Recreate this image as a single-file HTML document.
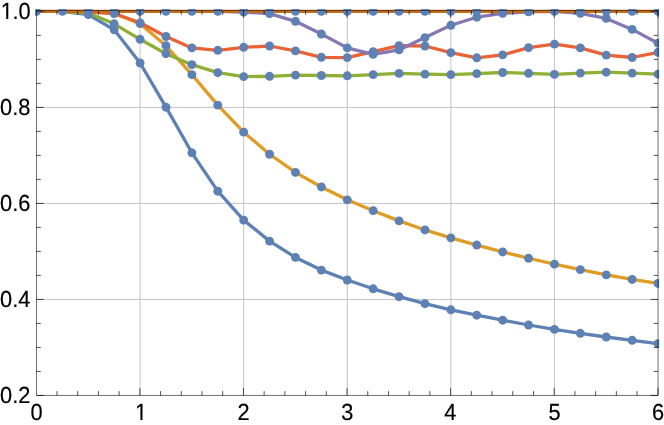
<!DOCTYPE html>
<html><head><meta charset="utf-8"><title>plot</title>
<style>
html,body{margin:0;padding:0;background:#fff;}
body{width:664px;height:425px;overflow:hidden;position:relative;font-family:"Liberation Sans",sans-serif;}
svg{position:absolute;left:0;top:0;display:block;}
text{font-family:"Liberation Sans",sans-serif;font-size:21.8px;fill:#000;stroke:#000;stroke-width:0.18px;text-rendering:geometricPrecision;}
</style></head><body>
<svg width="664" height="425" viewBox="0 0 664 425">
<defs><clipPath id="c"><rect x="35.05" y="9.0" width="624.1" height="388.2"/></clipPath></defs>
<rect width="664" height="425" fill="#fff"/>

<g stroke="#c4c4c4" stroke-width="1" fill="none">
<line x1="140.09" y1="10.5" x2="140.09" y2="395.45"/>
<line x1="243.68" y1="10.5" x2="243.68" y2="395.45"/>
<line x1="347.27" y1="10.5" x2="347.27" y2="395.45"/>
<line x1="450.86" y1="10.5" x2="450.86" y2="395.45"/>
<line x1="554.45" y1="10.5" x2="554.45" y2="395.45"/>
<line x1="36.5" y1="299.43" x2="658.04" y2="299.43"/>
<line x1="36.5" y1="203.41" x2="658.04" y2="203.41"/>
<line x1="36.5" y1="107.39" x2="658.04" y2="107.39"/>
</g>
<g clip-path="url(#c)">
<polyline points="62.40,11.30 88.30,14.50 114.19,29.80 140.09,63.00 165.99,107.20 191.88,152.80 217.78,191.20 243.68,220.10 269.58,241.10 295.48,257.40 321.37,270.10 347.27,280.00 373.17,288.80 399.06,296.70 424.96,303.70 450.86,309.80 476.76,315.20 502.66,320.20 528.55,325.00 554.45,329.40 580.35,333.30 606.25,337.00 632.14,340.30 658.04,343.70" fill="none" stroke="#5E81B5" stroke-width="3.3" stroke-linejoin="round" stroke-linecap="butt"/>
<polyline points="62.40,11.30 88.30,11.80 114.19,13.50 140.09,23.65 165.99,45.75 191.88,74.65 217.78,105.15 243.68,132.15 269.58,154.25 295.48,172.35 321.37,186.95 347.27,199.85 373.17,210.65 399.06,220.85 424.96,229.95 450.86,237.85 476.76,245.05 502.66,251.95 528.55,258.25 554.45,264.15 580.35,269.65 606.25,274.85 632.14,279.45 658.04,283.45" fill="none" stroke="#E19C24" stroke-width="3.3" stroke-linejoin="round" stroke-linecap="butt"/>
<polyline points="62.40,11.30 88.30,13.10 114.19,23.80 140.09,39.30 165.99,53.70 191.88,64.70 217.78,72.70 243.68,76.60 269.58,76.30 295.48,75.10 321.37,75.50 347.27,75.80 373.17,74.60 399.06,73.40 424.96,74.10 450.86,74.60 476.76,73.60 502.66,72.50 528.55,73.30 554.45,74.40 580.35,73.10 606.25,72.20 632.14,73.10 658.04,74.10" fill="none" stroke="#8FB032" stroke-width="3.3" stroke-linejoin="round" stroke-linecap="butt"/>
<polyline points="62.40,11.30 88.30,11.50 114.19,13.50 140.09,22.80 165.99,36.50 191.88,47.90 217.78,50.30 243.68,47.30 269.58,46.00 295.48,50.90 321.37,57.30 347.27,57.60 373.17,51.70 399.06,45.70 424.96,46.00 450.86,52.70 476.76,57.80 502.66,54.90 528.55,47.70 554.45,44.10 580.35,47.90 606.25,55.10 632.14,57.50 658.04,52.30" fill="none" stroke="#EB6235" stroke-width="3.3" stroke-linejoin="round" stroke-linecap="butt"/>
<polyline points="217.78,11.30 243.68,12.00 269.58,13.60 295.48,21.30 321.37,34.00 347.27,47.90 373.17,54.40 399.06,49.90 424.96,37.60 450.86,25.30 476.76,17.20 502.66,13.30 528.55,11.90 554.45,11.30 580.35,13.30 606.25,18.40 632.14,29.40 658.04,43.20" fill="none" stroke="#8778B3" stroke-width="3.3" stroke-linejoin="round" stroke-linecap="butt"/>
<polyline points="36.50,11.30 62.40,11.30 88.30,11.30 114.19,11.30 140.09,11.30 165.99,11.30 191.88,11.30 217.78,11.30 243.68,11.30 269.58,11.30 295.48,11.30 321.37,11.30 347.27,11.30 373.17,11.30 399.06,11.30 424.96,11.30 450.86,11.30 476.76,11.30 502.66,11.30 528.55,11.30 554.45,11.30 580.35,11.30 606.25,11.30 632.14,11.30 658.04,11.30" fill="none" stroke="#C56E1A" stroke-width="3.3" stroke-linejoin="round" stroke-linecap="butt"/>
<g fill="#5E81B5">
<circle cx="36.50" cy="11.30" r="4.45"/>
<circle cx="62.40" cy="11.30" r="4.45"/>
<circle cx="88.30" cy="11.30" r="4.45"/>
<circle cx="88.30" cy="13.10" r="4.45"/>
<circle cx="88.30" cy="11.80" r="4.45"/>
<circle cx="88.30" cy="14.50" r="4.45"/>
<circle cx="114.19" cy="11.30" r="4.45"/>
<circle cx="114.19" cy="13.50" r="4.45"/>
<circle cx="114.19" cy="23.80" r="4.45"/>
<circle cx="114.19" cy="29.80" r="4.45"/>
<circle cx="140.09" cy="11.30" r="4.45"/>
<circle cx="140.09" cy="22.80" r="4.45"/>
<circle cx="140.09" cy="39.30" r="4.45"/>
<circle cx="140.09" cy="23.65" r="4.45"/>
<circle cx="140.09" cy="63.00" r="4.45"/>
<circle cx="165.99" cy="11.30" r="4.45"/>
<circle cx="165.99" cy="36.50" r="4.45"/>
<circle cx="165.99" cy="53.70" r="4.45"/>
<circle cx="165.99" cy="45.75" r="4.45"/>
<circle cx="165.99" cy="107.20" r="4.45"/>
<circle cx="191.88" cy="11.30" r="4.45"/>
<circle cx="191.88" cy="47.90" r="4.45"/>
<circle cx="191.88" cy="64.70" r="4.45"/>
<circle cx="191.88" cy="74.65" r="4.45"/>
<circle cx="191.88" cy="152.80" r="4.45"/>
<circle cx="217.78" cy="11.30" r="4.45"/>
<circle cx="217.78" cy="50.30" r="4.45"/>
<circle cx="217.78" cy="72.70" r="4.45"/>
<circle cx="217.78" cy="105.15" r="4.45"/>
<circle cx="217.78" cy="191.20" r="4.45"/>
<circle cx="243.68" cy="11.30" r="4.45"/>
<circle cx="243.68" cy="12.00" r="4.45"/>
<circle cx="243.68" cy="47.30" r="4.45"/>
<circle cx="243.68" cy="76.60" r="4.45"/>
<circle cx="243.68" cy="132.15" r="4.45"/>
<circle cx="243.68" cy="220.10" r="4.45"/>
<circle cx="269.58" cy="11.30" r="4.45"/>
<circle cx="269.58" cy="13.60" r="4.45"/>
<circle cx="269.58" cy="46.00" r="4.45"/>
<circle cx="269.58" cy="76.30" r="4.45"/>
<circle cx="269.58" cy="154.25" r="4.45"/>
<circle cx="269.58" cy="241.10" r="4.45"/>
<circle cx="295.48" cy="11.30" r="4.45"/>
<circle cx="295.48" cy="21.30" r="4.45"/>
<circle cx="295.48" cy="50.90" r="4.45"/>
<circle cx="295.48" cy="75.10" r="4.45"/>
<circle cx="295.48" cy="172.35" r="4.45"/>
<circle cx="295.48" cy="257.40" r="4.45"/>
<circle cx="321.37" cy="11.30" r="4.45"/>
<circle cx="321.37" cy="34.00" r="4.45"/>
<circle cx="321.37" cy="57.30" r="4.45"/>
<circle cx="321.37" cy="75.50" r="4.45"/>
<circle cx="321.37" cy="186.95" r="4.45"/>
<circle cx="321.37" cy="270.10" r="4.45"/>
<circle cx="347.27" cy="11.30" r="4.45"/>
<circle cx="347.27" cy="47.90" r="4.45"/>
<circle cx="347.27" cy="57.60" r="4.45"/>
<circle cx="347.27" cy="75.80" r="4.45"/>
<circle cx="347.27" cy="199.85" r="4.45"/>
<circle cx="347.27" cy="280.00" r="4.45"/>
<circle cx="373.17" cy="11.30" r="4.45"/>
<circle cx="373.17" cy="54.40" r="4.45"/>
<circle cx="373.17" cy="51.70" r="4.45"/>
<circle cx="373.17" cy="74.60" r="4.45"/>
<circle cx="373.17" cy="210.65" r="4.45"/>
<circle cx="373.17" cy="288.80" r="4.45"/>
<circle cx="399.06" cy="11.30" r="4.45"/>
<circle cx="399.06" cy="49.90" r="4.45"/>
<circle cx="399.06" cy="45.70" r="4.45"/>
<circle cx="399.06" cy="73.40" r="4.45"/>
<circle cx="399.06" cy="220.85" r="4.45"/>
<circle cx="399.06" cy="296.70" r="4.45"/>
<circle cx="424.96" cy="11.30" r="4.45"/>
<circle cx="424.96" cy="37.60" r="4.45"/>
<circle cx="424.96" cy="46.00" r="4.45"/>
<circle cx="424.96" cy="74.10" r="4.45"/>
<circle cx="424.96" cy="229.95" r="4.45"/>
<circle cx="424.96" cy="303.70" r="4.45"/>
<circle cx="450.86" cy="11.30" r="4.45"/>
<circle cx="450.86" cy="25.30" r="4.45"/>
<circle cx="450.86" cy="52.70" r="4.45"/>
<circle cx="450.86" cy="74.60" r="4.45"/>
<circle cx="450.86" cy="237.85" r="4.45"/>
<circle cx="450.86" cy="309.80" r="4.45"/>
<circle cx="476.76" cy="11.30" r="4.45"/>
<circle cx="476.76" cy="17.20" r="4.45"/>
<circle cx="476.76" cy="57.80" r="4.45"/>
<circle cx="476.76" cy="73.60" r="4.45"/>
<circle cx="476.76" cy="245.05" r="4.45"/>
<circle cx="476.76" cy="315.20" r="4.45"/>
<circle cx="502.66" cy="11.30" r="4.45"/>
<circle cx="502.66" cy="13.30" r="4.45"/>
<circle cx="502.66" cy="54.90" r="4.45"/>
<circle cx="502.66" cy="72.50" r="4.45"/>
<circle cx="502.66" cy="251.95" r="4.45"/>
<circle cx="502.66" cy="320.20" r="4.45"/>
<circle cx="528.55" cy="11.30" r="4.45"/>
<circle cx="528.55" cy="11.90" r="4.45"/>
<circle cx="528.55" cy="47.70" r="4.45"/>
<circle cx="528.55" cy="73.30" r="4.45"/>
<circle cx="528.55" cy="258.25" r="4.45"/>
<circle cx="528.55" cy="325.00" r="4.45"/>
<circle cx="554.45" cy="11.30" r="4.45"/>
<circle cx="554.45" cy="44.10" r="4.45"/>
<circle cx="554.45" cy="74.40" r="4.45"/>
<circle cx="554.45" cy="264.15" r="4.45"/>
<circle cx="554.45" cy="329.40" r="4.45"/>
<circle cx="580.35" cy="11.30" r="4.45"/>
<circle cx="580.35" cy="13.30" r="4.45"/>
<circle cx="580.35" cy="47.90" r="4.45"/>
<circle cx="580.35" cy="73.10" r="4.45"/>
<circle cx="580.35" cy="269.65" r="4.45"/>
<circle cx="580.35" cy="333.30" r="4.45"/>
<circle cx="606.25" cy="11.30" r="4.45"/>
<circle cx="606.25" cy="18.40" r="4.45"/>
<circle cx="606.25" cy="55.10" r="4.45"/>
<circle cx="606.25" cy="72.20" r="4.45"/>
<circle cx="606.25" cy="274.85" r="4.45"/>
<circle cx="606.25" cy="337.00" r="4.45"/>
<circle cx="632.14" cy="11.30" r="4.45"/>
<circle cx="632.14" cy="29.40" r="4.45"/>
<circle cx="632.14" cy="57.50" r="4.45"/>
<circle cx="632.14" cy="73.10" r="4.45"/>
<circle cx="632.14" cy="279.45" r="4.45"/>
<circle cx="632.14" cy="340.30" r="4.45"/>
<circle cx="658.04" cy="11.30" r="4.45"/>
<circle cx="658.04" cy="43.20" r="4.45"/>
<circle cx="658.04" cy="52.30" r="4.45"/>
<circle cx="658.04" cy="74.10" r="4.45"/>
<circle cx="658.04" cy="283.45" r="4.45"/>
<circle cx="658.04" cy="343.70" r="4.45"/>
</g></g>
<g stroke="#000" stroke-width="0.57" fill="none">
<path d="M36.5 10.2V395.45H658.04V10.2"/>
<line x1="36.2" y1="10.5" x2="658.3399999999999" y2="10.5" stroke-width="0.48"/>
</g><g stroke="#000" stroke-width="0.68" fill="none">
<line x1="56.97" y1="395.45" x2="56.97" y2="391.15"/>
<line x1="56.97" y1="10.5" x2="56.97" y2="14.8"/>
<line x1="77.69" y1="395.45" x2="77.69" y2="391.15"/>
<line x1="77.69" y1="10.5" x2="77.69" y2="14.8"/>
<line x1="98.40" y1="395.45" x2="98.40" y2="391.15"/>
<line x1="98.40" y1="10.5" x2="98.40" y2="14.8"/>
<line x1="119.12" y1="395.45" x2="119.12" y2="391.15"/>
<line x1="119.12" y1="10.5" x2="119.12" y2="14.8"/>
<line x1="139.84" y1="395.45" x2="139.84" y2="388.15"/>
<line x1="139.84" y1="10.5" x2="139.84" y2="17.8"/>
<line x1="160.56" y1="395.45" x2="160.56" y2="391.15"/>
<line x1="160.56" y1="10.5" x2="160.56" y2="14.8"/>
<line x1="181.28" y1="395.45" x2="181.28" y2="391.15"/>
<line x1="181.28" y1="10.5" x2="181.28" y2="14.8"/>
<line x1="201.99" y1="395.45" x2="201.99" y2="391.15"/>
<line x1="201.99" y1="10.5" x2="201.99" y2="14.8"/>
<line x1="222.71" y1="395.45" x2="222.71" y2="391.15"/>
<line x1="222.71" y1="10.5" x2="222.71" y2="14.8"/>
<line x1="243.43" y1="395.45" x2="243.43" y2="388.15"/>
<line x1="243.43" y1="10.5" x2="243.43" y2="17.8"/>
<line x1="264.15" y1="395.45" x2="264.15" y2="391.15"/>
<line x1="264.15" y1="10.5" x2="264.15" y2="14.8"/>
<line x1="284.87" y1="395.45" x2="284.87" y2="391.15"/>
<line x1="284.87" y1="10.5" x2="284.87" y2="14.8"/>
<line x1="305.58" y1="395.45" x2="305.58" y2="391.15"/>
<line x1="305.58" y1="10.5" x2="305.58" y2="14.8"/>
<line x1="326.30" y1="395.45" x2="326.30" y2="391.15"/>
<line x1="326.30" y1="10.5" x2="326.30" y2="14.8"/>
<line x1="347.02" y1="395.45" x2="347.02" y2="388.15"/>
<line x1="347.02" y1="10.5" x2="347.02" y2="17.8"/>
<line x1="367.74" y1="395.45" x2="367.74" y2="391.15"/>
<line x1="367.74" y1="10.5" x2="367.74" y2="14.8"/>
<line x1="388.46" y1="395.45" x2="388.46" y2="391.15"/>
<line x1="388.46" y1="10.5" x2="388.46" y2="14.8"/>
<line x1="409.17" y1="395.45" x2="409.17" y2="391.15"/>
<line x1="409.17" y1="10.5" x2="409.17" y2="14.8"/>
<line x1="429.89" y1="395.45" x2="429.89" y2="391.15"/>
<line x1="429.89" y1="10.5" x2="429.89" y2="14.8"/>
<line x1="450.61" y1="395.45" x2="450.61" y2="388.15"/>
<line x1="450.61" y1="10.5" x2="450.61" y2="17.8"/>
<line x1="471.33" y1="395.45" x2="471.33" y2="391.15"/>
<line x1="471.33" y1="10.5" x2="471.33" y2="14.8"/>
<line x1="492.05" y1="395.45" x2="492.05" y2="391.15"/>
<line x1="492.05" y1="10.5" x2="492.05" y2="14.8"/>
<line x1="512.76" y1="395.45" x2="512.76" y2="391.15"/>
<line x1="512.76" y1="10.5" x2="512.76" y2="14.8"/>
<line x1="533.48" y1="395.45" x2="533.48" y2="391.15"/>
<line x1="533.48" y1="10.5" x2="533.48" y2="14.8"/>
<line x1="554.20" y1="395.45" x2="554.20" y2="388.15"/>
<line x1="554.20" y1="10.5" x2="554.20" y2="17.8"/>
<line x1="574.92" y1="395.45" x2="574.92" y2="391.15"/>
<line x1="574.92" y1="10.5" x2="574.92" y2="14.8"/>
<line x1="595.64" y1="395.45" x2="595.64" y2="391.15"/>
<line x1="595.64" y1="10.5" x2="595.64" y2="14.8"/>
<line x1="616.35" y1="395.45" x2="616.35" y2="391.15"/>
<line x1="616.35" y1="10.5" x2="616.35" y2="14.8"/>
<line x1="637.07" y1="395.45" x2="637.07" y2="391.15"/>
<line x1="637.07" y1="10.5" x2="637.07" y2="14.8"/>
<line x1="658.04" y1="395.45" x2="658.04" y2="388.15"/>
<line x1="658.04" y1="10.5" x2="658.04" y2="17.8"/>
<line x1="36.5" y1="395.45" x2="43.8" y2="395.45"/>
<line x1="658.04" y1="395.45" x2="650.74" y2="395.45"/>
<line x1="36.5" y1="371.44" x2="40.8" y2="371.44"/>
<line x1="658.04" y1="371.44" x2="653.74" y2="371.44"/>
<line x1="36.5" y1="347.44" x2="40.8" y2="347.44"/>
<line x1="658.04" y1="347.44" x2="653.74" y2="347.44"/>
<line x1="36.5" y1="323.43" x2="40.8" y2="323.43"/>
<line x1="658.04" y1="323.43" x2="653.74" y2="323.43"/>
<line x1="36.5" y1="299.43" x2="43.8" y2="299.43"/>
<line x1="658.04" y1="299.43" x2="650.74" y2="299.43"/>
<line x1="36.5" y1="275.42" x2="40.8" y2="275.42"/>
<line x1="658.04" y1="275.42" x2="653.74" y2="275.42"/>
<line x1="36.5" y1="251.42" x2="40.8" y2="251.42"/>
<line x1="658.04" y1="251.42" x2="653.74" y2="251.42"/>
<line x1="36.5" y1="227.41" x2="40.8" y2="227.41"/>
<line x1="658.04" y1="227.41" x2="653.74" y2="227.41"/>
<line x1="36.5" y1="203.41" x2="43.8" y2="203.41"/>
<line x1="658.04" y1="203.41" x2="650.74" y2="203.41"/>
<line x1="36.5" y1="179.40" x2="40.8" y2="179.40"/>
<line x1="658.04" y1="179.40" x2="653.74" y2="179.40"/>
<line x1="36.5" y1="155.40" x2="40.8" y2="155.40"/>
<line x1="658.04" y1="155.40" x2="653.74" y2="155.40"/>
<line x1="36.5" y1="131.39" x2="40.8" y2="131.39"/>
<line x1="658.04" y1="131.39" x2="653.74" y2="131.39"/>
<line x1="36.5" y1="107.39" x2="43.8" y2="107.39"/>
<line x1="658.04" y1="107.39" x2="650.74" y2="107.39"/>
<line x1="36.5" y1="83.38" x2="40.8" y2="83.38"/>
<line x1="658.04" y1="83.38" x2="653.74" y2="83.38"/>
<line x1="36.5" y1="59.38" x2="40.8" y2="59.38"/>
<line x1="658.04" y1="59.38" x2="653.74" y2="59.38"/>
<line x1="36.5" y1="35.37" x2="40.8" y2="35.37"/>
<line x1="658.04" y1="35.37" x2="653.74" y2="35.37"/>
<line x1="36.5" y1="11.37" x2="43.8" y2="11.37"/>
<line x1="658.04" y1="11.37" x2="650.74" y2="11.37"/>
</g>
<g style="will-change:transform">
<text transform="translate(36.50 419.6) scale(1 1.07)" text-anchor="middle">0</text>
<text transform="translate(141.09 419.6) scale(1 1.07)" text-anchor="middle">1</text>
<text transform="translate(243.68 419.6) scale(1 1.07)" text-anchor="middle">2</text>
<text transform="translate(347.27 419.6) scale(1 1.07)" text-anchor="middle">3</text>
<text transform="translate(450.36 419.6) scale(1 1.07)" text-anchor="middle">4</text>
<text transform="translate(554.45 419.6) scale(1 1.07)" text-anchor="middle">5</text>
<text transform="translate(658.04 419.6) scale(1 1.07)" text-anchor="middle">6</text>
<text transform="translate(30.4 403.20) scale(1 1.07)" text-anchor="end">0.2</text>
<text transform="translate(30.4 307.18) scale(1 1.07)" text-anchor="end">0.4</text>
<text transform="translate(30.4 211.16) scale(1 1.07)" text-anchor="end">0.6</text>
<text transform="translate(30.4 115.14) scale(1 1.07)" text-anchor="end">0.8</text>
<text transform="translate(30.4 19.12) scale(1 1.07)" text-anchor="end"><tspan dx="0.3">1</tspan><tspan dx="-0.3">.0</tspan></text>
</g>
<g fill="#fff">
<rect x="135.3" y="417.7" width="5.1" height="3.2"/><rect x="142.5" y="417.7" width="5" height="3.2"/>
<rect x="1" y="16.65" width="5.2" height="3.2"/><rect x="8.3" y="16.65" width="4.4" height="3.2"/>
</g>
</svg></body></html>
